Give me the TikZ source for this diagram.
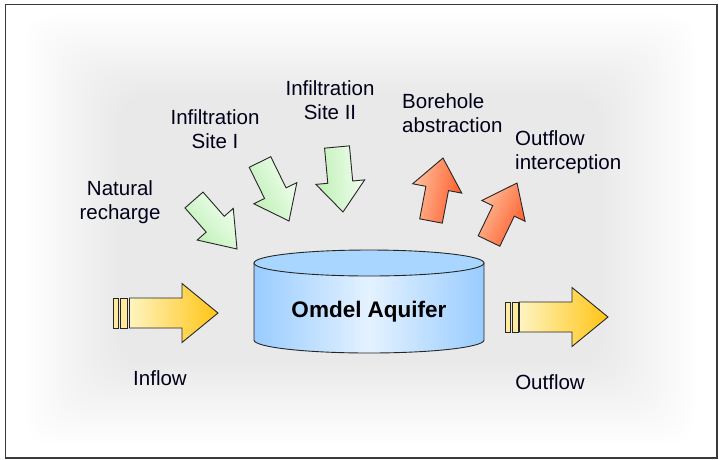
\documentclass[tikz,border=0pt]{standalone}
\usepackage{fontspec}
\setmainfont{Liberation Sans}
\usetikzlibrary{calc}
\definecolor{frameC}{HTML}{3A3A3A}
\definecolor{greenA}{HTML}{F2FFF0}
\definecolor{greenB}{HTML}{BDEFB4}
\definecolor{orangeA}{HTML}{FFC2A0}
\definecolor{orangeB}{HTML}{FF5A28}
\definecolor{yellowA}{HTML}{FFF4C0}
\definecolor{yellowB}{HTML}{FFC414}
\definecolor{cylEdge}{HTML}{99CCFF}
\definecolor{cylMid}{HTML}{E4F2FF}
\definecolor{cylTop}{HTML}{A9D6FF}
\newcommand\blockarrow[6]{%
  \coordinate (#1b) at ($(#2)!#5!(#1)$);
  \path[#6] ($(#1)!#3!90:(#2)$) -- ($(#1b)!#3!90:(#2)$) -- ($(#1b)!#4!90:(#2)$) -- (#2)
    -- ($(#1b)!#4!-90:(#2)$) -- ($(#1b)!#3!-90:(#2)$) -- ($(#1)!#3!-90:(#2)$) -- cycle;
}
\tikzset{
  lbl/.style={inner sep=0pt, font=\fontsize{20.5}{23.5}\selectfont, text=black!90!blue},
  arrowline/.style={draw=black!85, line width=0.9pt, line join=miter},
  greenarrow/.style={arrowline, left color=greenA, right color=greenB},
  orangearrow/.style={arrowline, left color=orangeA, right color=orangeB},
  yellowarrow/.style={arrowline, left color=yellowA, right color=yellowB},
  barbox/.style={arrowline, fill=yellowA!80!yellowB},
}
\begin{document}
\begin{tikzpicture}[x=1pt,y=-1pt]
\useasboundingbox (0,0) rectangle (719,459);
\fill[white] (0,0) rectangle (719,459);
% background glow
\foreach \i in {0,...,21}{
  \fill[black, fill opacity=0.0042, rounded corners=30pt] (24+\i*4.5,14+\i*3.8) rectangle (696-\i*4.5,444-\i*3.8);
}
% frame
\draw[frameC, line width=1.6pt] (5.5,4.5) rectangle (717,458);
% cylinder
\coordinate (cylTL) at (254,263);
\coordinate (cylTR) at (484,263);
\coordinate (cylBL) at (254,340);
\path[left color=cylEdge, right color=cylEdge, middle color=cylMid, draw=black!85, line width=0.9pt]
  (cylTL) -- (cylBL) arc[start angle=180, end angle=360, x radius=115pt, y radius=13pt] -- (cylTR) -- cycle;
\path[fill=cylTop, draw=black!85, line width=0.9pt] (369,263) ellipse [x radius=115pt, y radius=13pt];
\node[inner sep=0pt, font=\fontsize{22.5}{26}\selectfont\bfseries] (aq) at (369,312) {Omdel Aquifer};
% green arrows
\coordinate (At) at (194,200); \coordinate (Ap) at (237,249);
\coordinate (Bt) at (260,162); \coordinate (Bp) at (289,221);
\coordinate (Ct) at (337,147); \coordinate (Cp) at (343,212);
\blockarrow{At}{Ap}{12pt}{24pt}{33pt}{greenarrow, shading angle=-48.7}
\blockarrow{Bt}{Bp}{12pt}{24pt}{31pt}{greenarrow, shading angle=-63.8}
\blockarrow{Ct}{Cp}{12.5pt}{24.5pt}{30pt}{greenarrow, shading angle=-84.7}
% orange arrows
\coordinate (Dt) at (431,221); \coordinate (Dp) at (443,158);
\coordinate (Et) at (489,241); \coordinate (Ep) at (517,183);
\blockarrow{Dt}{Dp}{11.5pt}{25pt}{31pt}{orangearrow, shading angle=79.2}
\blockarrow{Et}{Ep}{12pt}{24pt}{31pt}{orangearrow, shading angle=64.2}
% inflow / outflow
\draw[barbox] (113,298) rectangle (118,328);
\draw[barbox] (120,298) rectangle (127,328);
\coordinate (It) at (129.5,313); \coordinate (Ip) at (218,313);
\blockarrow{It}{Ip}{15pt}{29.5pt}{36pt}{yellowarrow}
\draw[barbox] (505,302) rectangle (510,332);
\draw[barbox] (512,302) rectangle (518,332);
\coordinate (Ot) at (519.5,317); \coordinate (Op) at (608,317);
\blockarrow{Ot}{Op}{15pt}{29.5pt}{36pt}{yellowarrow}
% labels
\node[lbl, align=center] (nr) at (120,202) {Natural\\recharge};
\node[lbl, align=center] (s1) at (215,129) {Infiltration\\Site I};
\node[lbl, align=center] (s2) at (330,100) {Infiltration\\Site II};
\node[lbl, align=left, anchor=west] (ba) at (402,113) {Borehole\\abstraction};
\node[lbl, align=left, anchor=west] (oi) at (515,152) {Outflow\\interception};
\node[lbl] (in) at (160,378) {Inflow};
\node[lbl] (out) at (550,382) {Outflow};
\end{tikzpicture}
\end{document}
